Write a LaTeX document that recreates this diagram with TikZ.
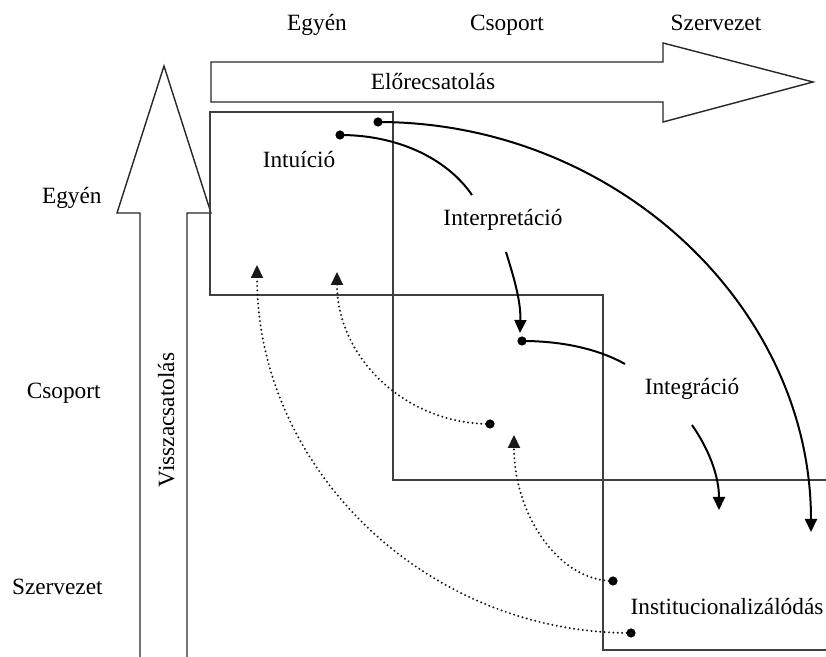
\documentclass[tikz,border=0pt]{standalone}
\usepackage{fontspec}
\setmainfont{Liberation Serif}
\usetikzlibrary{arrows.meta}
\begin{document}
\begin{tikzpicture}[x=0.5pt,y=-0.5pt,
  lbl/.style={font=\fontsize{11.65}{14}\selectfont, inner sep=0pt, anchor=base},
  cellbox/.style={draw=black!75, line width=0.75pt},
  bigarrow/.style={draw=black!85, line width=0.7pt, line join=miter},
  flow/.style={draw=black, line width=1pt},
  feedback/.style={draw=black!90, line width=1.1pt, line cap=round, dash pattern=on 0pt off 2.2pt},
  flowtip/.style={-{Triangle[length=6.5pt,width=6pt]}},
  dotmark/.style={circle, fill=black, inner sep=0pt, minimum size=4.6pt}
]
\useasboundingbox (0,0) rectangle (826,657);

% level headings
\node[lbl] (tE) at (317,31) {Egyén};
\node[lbl] (tC) at (507,31) {Csoport};
\node[lbl] (tS) at (716,31) {Szervezet};
\node[lbl, anchor=base east] (lE) at (102,204) {Egyén};
\node[lbl, anchor=base east] (lC) at (101,399) {Csoport};
\node[lbl, anchor=base east] (lS) at (103,595) {Szervezet};

% feed-forward arrow
\draw[bigarrow] (211,62) -- (663,62) -- (663,43) -- (813,82) -- (663,122)
  -- (663,102) -- (211,102) -- cycle;
\node[lbl] (ff) at (433,90) {Előrecsatolás};

% feedback arrow
\draw[bigarrow] (140,660) -- (140,213) -- (117,213) -- (164,66) -- (211,213)
  -- (187,213) -- (187,660);
\node[lbl, rotate=90] (fb) at (174,420) {Visszacsatolás};

% level cells
\draw[cellbox] (210,112) rectangle (393,295);
\draw[cellbox] (393,295) rectangle (603,480);
\draw[cellbox] (830,480) -- (603,480) -- (603,650) -- (830,650);

% process labels
\node[lbl] (intu) at (299,168) {Intuíció};
\node[lbl] (interp) at (503,226) {Interpretáció};
\node[lbl] (integ) at (692,395) {Integráció};
\node[lbl] (inst) at (727,615) {Institucionalizálódás};

% dots
\node[dotmark] (d1) at (340,135) {};
\node[dotmark] (d2) at (378,122) {};
\node[dotmark] (d3) at (522,341) {};
\node[dotmark] (d4) at (490,424) {};
\node[dotmark] (d5) at (613,581) {};
\node[dotmark] (d6) at (631,633) {};

% connector ends
\coordinate (e1) at (472,195);
\coordinate (s3) at (506,252);
\coordinate (e3) at (520,333);
\coordinate (e4) at (625,364);
\coordinate (s5) at (692,425);
\coordinate (e5) at (719,510);
\coordinate (e2) at (811,532);
\coordinate (e6) at (337,272);
\coordinate (e7) at (514,435);
\coordinate (e8) at (257,265);

% feed-forward flows
\draw[flow] (d1.center) .. controls (400,135) and (448,160) .. (e1);
\draw[flow, flowtip] (s3) .. controls (513,275) and (521,300) .. (e3);
\draw[flow] (d3.center) .. controls (565,341) and (600,350) .. (e4);
\draw[flow, flowtip] (s5) .. controls (708,448) and (719,475) .. (e5);
\draw[flow, flowtip] (d2.center) .. controls (615,122) and (811,306) .. (e2);

% feedback flows
\draw[feedback, flowtip] (d4.center) .. controls (405,424) and (337,357) .. (e6);
\draw[feedback, flowtip] (d5.center) .. controls (559,581) and (514,515) .. (e7);
\draw[feedback, flowtip] (d6.center) .. controls (425,633) and (257,468) .. (e8);
\end{tikzpicture}
\end{document}
